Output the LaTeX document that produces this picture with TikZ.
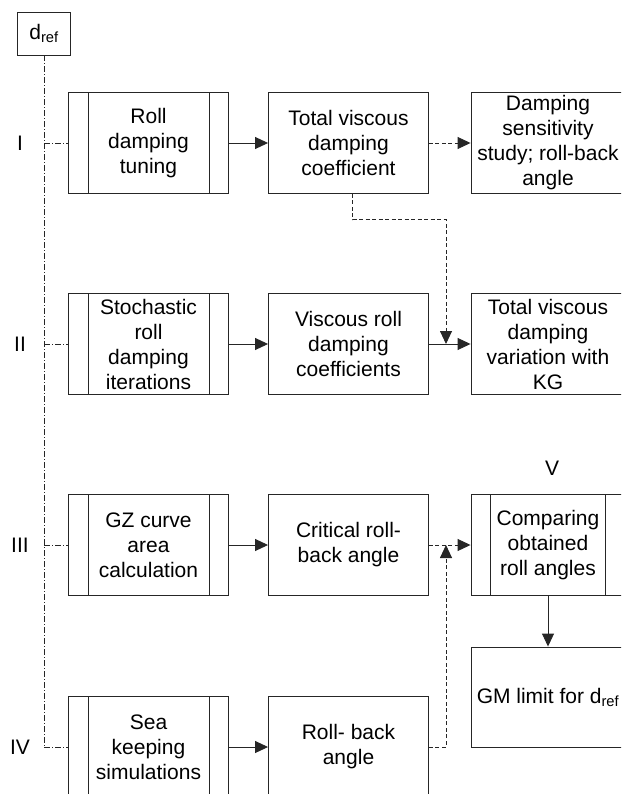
\documentclass[tikz,border=0pt]{standalone}
\usepackage{fontspec}
\setmainfont{Liberation Sans}
\usetikzlibrary{arrows.meta}

\tikzset{
  box/.style={draw=black!85, line width=0.9pt, rectangle, minimum width=160pt,
    minimum height=101pt, align=center, inner sep=2pt, font=\fontsize{21}{25}\selectfont},
  outbox/.style={box, minimum width=154pt},
  rowlabel/.style={font=\fontsize{21}{25}\selectfont},
  flow/.style={draw=black!85, line width=0.9pt, -{Triangle[length=13pt,width=12pt]}},
  flowdash/.style={flow, dash pattern=on 4pt off 2.5pt},
  trunk/.style={draw=black!85, line width=0.6pt, dash pattern=on 6pt off 2pt on 1pt off 2pt}
}

\begin{document}
\begin{tikzpicture}[x=1pt, y=-1pt]
    % Moldura da figura (as caixas da direita e de baixo ficam cortadas)
    \useasboundingbox (0,0) rectangle (621,794);
    \clip (0,0) rectangle (621,794);

    % Calado de referencia
    \node[box, minimum width=53pt, minimum height=43pt, inner sep=0pt] (dref) at (44,33.5) {d\textsubscript{ref}};
    \draw[trunk] (dref.south) -- (44,747);

    % Linhas: {numero/y/rotulo/processo/resultado}
    \foreach \i/\y/\lab/\proc/\res in {
        1/143/I/{Roll\\damping\\tuning}/{Total viscous\\damping\\coefficient},
        2/344/II/{Stochastic\\roll\\damping\\iterations}/{Viscous roll\\damping\\coefficients},
        3/545/III/{GZ curve\\area\\calculation}/{Critical roll-\\back angle},
        4/747/IV/{Sea\\keeping\\simulations}/{Roll- back\\angle}} {

        \node[rowlabel] (l\i) at (20,\y) {\lab};
        \node[box] (s\i) at (148.5,\y) {\proc};
        \node[box] (t\i) at (348.5,\y) {\res};

        % Processo pre-definido: linhas internas
        \draw[black!85, line width=0.9pt] ([xshift=20pt]s\i.north west) -- ([xshift=20pt]s\i.south west)
            ([xshift=-20pt]s\i.north east) -- ([xshift=-20pt]s\i.south east);

        \draw[flow] (s\i) -- (t\i);
        \draw[trunk] (dref.south |- s\i.west) -- (s\i.west);
    }

    % Coluna da direita
    \node[outbox] (u1) at (548,143) {Damping\\sensitivity\\study; roll-back\\angle};
    \node[outbox] (u2) at (548,344) {Total viscous\\damping\\variation with\\KG};
    \node[outbox] (u3) at (548,545) {Comparing\\obtained\\roll angles};
    \node[outbox, minimum height=100pt] (gm) at (548,697) {\raisebox{-16pt}{GM limit for d\textsubscript{ref}}};
    \node[rowlabel] (lv) at (552,468) {V};
    \draw[black!85, line width=0.9pt] ([xshift=20pt]u3.north west) -- ([xshift=20pt]u3.south west)
        ([xshift=-20pt]u3.north east) -- ([xshift=-20pt]u3.south east);

    % Setas
    \draw[flowdash] (t1) -- (u1);
    \draw[flow] (t2) -- (u2);
    \draw[flowdash] (t3) -- (u3);
    \draw[flow] (u3) -- (gm);

    % Ligacoes tracejadas ate as setas
    \coordinate (j2) at (446,344);
    \coordinate (j3) at (446,545);
    \draw[flowdash] ([xshift=4pt]t1.south) -- ++(0,26) -| (j2);
    \draw[flowdash] (t4.east) -| (j3);
\end{tikzpicture}
\end{document}
